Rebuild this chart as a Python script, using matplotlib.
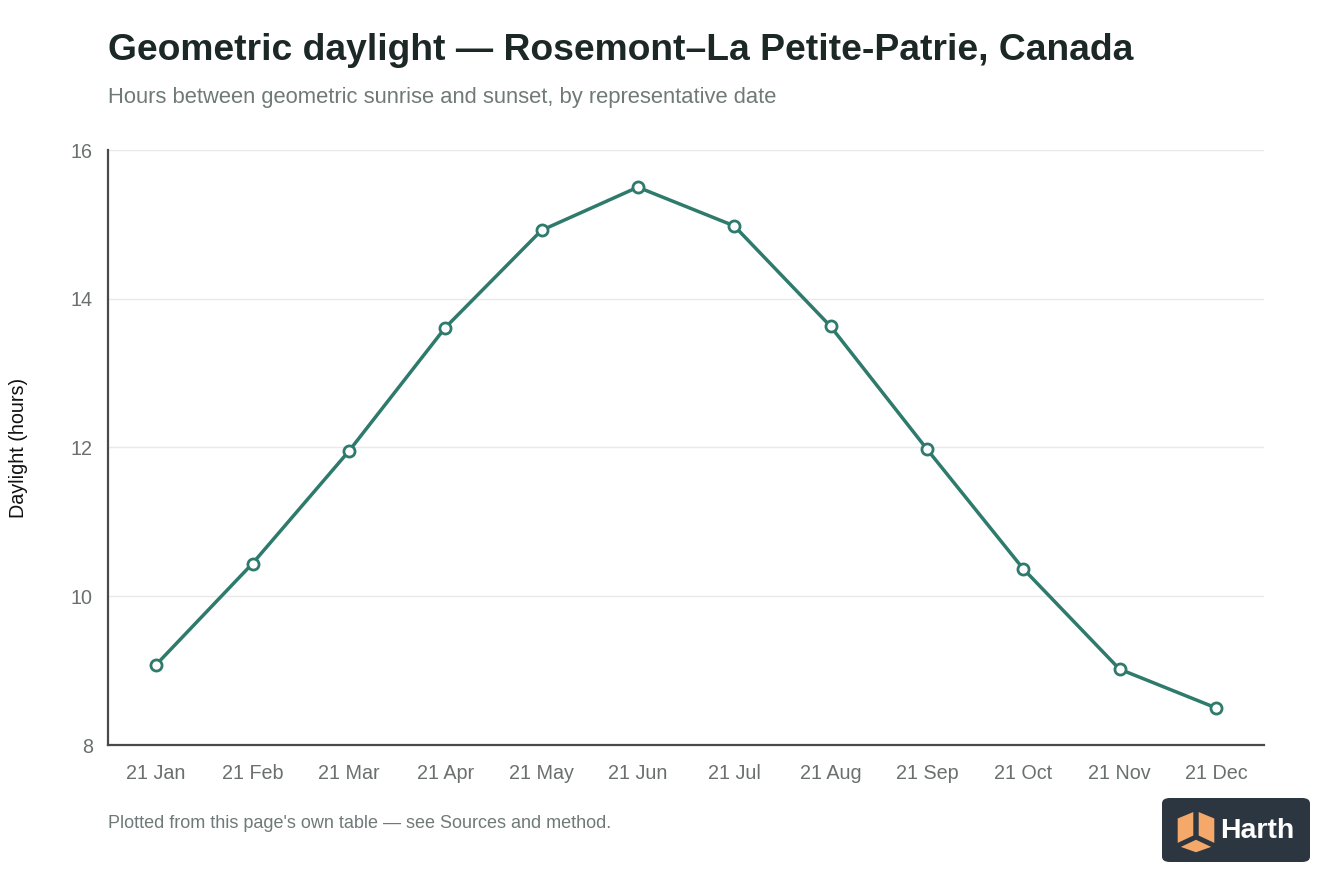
import matplotlib
matplotlib.use("Agg")
import matplotlib.pyplot as plt
from matplotlib.patches import FancyBboxPatch, Polygon

dates = ["21 Jan", "21 Feb", "21 Mar", "21 Apr", "21 May", "21 Jun",
         "21 Jul", "21 Aug", "21 Sep", "21 Oct", "21 Nov", "21 Dec"]
daylight = [9.08, 10.44, 11.95, 13.61, 14.92, 15.50,
            14.98, 13.63, 11.98, 10.37, 9.02, 8.50]
yticks = [8, 10, 12, 14, 16]

plt.rcParams['font.family'] = ['Liberation Sans', 'DejaVu Sans']

W, H = 1344, 896
fig = plt.figure(figsize=(W/100, H/100), dpi=100)
ax = fig.add_axes([108/W, 1-745/H, (1264-108)/W, (745-150)/H])

line_color = "#2e7a6c"
x = list(range(len(dates)))
ax.plot(x, daylight, color=line_color, lw=2.5, marker='o', markersize=8,
        markerfacecolor='white', markeredgecolor=line_color, markeredgewidth=2, zorder=3)

ax.set_xlim(-0.5, len(dates)-0.5)
ax.set_ylim(8, 16)
ax.set_xticks(x)
ax.set_xticklabels(dates)
ax.set_yticks(yticks)
ax.tick_params(axis='both', length=0, labelsize=14.2, colors="#6b6f6e")
ax.tick_params(axis='x', pad=13.5)
ax.tick_params(axis='y', pad=11)
ax.grid(axis='y', color="#e8eaea", lw=1)
ax.set_axisbelow(True)
for s in ['top', 'right']:
    ax.spines[s].set_visible(False)
for s in ['left', 'bottom']:
    ax.spines[s].set_color("#4a4a4a")
    ax.spines[s].set_linewidth(1.6)
ax.set_ylabel("Daylight (hours)", fontsize=14.2, color="#111111")
ax.yaxis.set_label_coords((28-108)/(1264-108), 0.5)

fig.text(108/W, 1-51/H, "Geometric daylight — Rosemont–La Petite-Patrie, Canada",
         fontsize=26.8, fontweight='bold', color="#1c2826", va='center', ha='left')
fig.text(108/W, 1-98/H, "Hours between geometric sunrise and sunset, by representative date",
         fontsize=15.8, color="#6f7a78", va='center', ha='left')
fig.text(108/W, 1-823/H, "Plotted from this page's own table — see Sources and method.",
         fontsize=13, color="#6f7a78", va='center', ha='left')

# logo badge
lx0, ly0, lw, lh = 1162, 798, 148, 64
badge = FancyBboxPatch((lx0/W, 1-(ly0+lh)/H), lw/W, lh/H,
                       boxstyle="round,pad=0,rounding_size=0.006",
                       transform=fig.transFigure, facecolor="#2b3640",
                       edgecolor="none")
fig.patches.append(badge)
def P(px, py):
    return (px/W, 1-py/H)
cube_col = "#f4a86a"
left = Polygon([P(1177, 818), P(1194, 811), P(1194, 836), P(1177, 844)],
               closed=True, transform=fig.transFigure, facecolor=cube_col, edgecolor="#2b3640", lw=1)
right = Polygon([P(1198, 811), P(1215, 818), P(1215, 844), P(1198, 836)],
                closed=True, transform=fig.transFigure, facecolor=cube_col, edgecolor="#2b3640", lw=1)
bottom = Polygon([P(1179, 847), P(1196, 839), P(1213, 847), P(1196, 853)],
                 closed=True, transform=fig.transFigure, facecolor=cube_col, edgecolor="#2b3640", lw=1)
for p in (left, right, bottom):
    fig.patches.append(p)
fig.text(1220/W, 1-831/H, "Harth", fontsize=20.5, fontweight='bold', color="white",
         va='center', ha='left')

fig.savefig("out.png", dpi=100, facecolor='white')
